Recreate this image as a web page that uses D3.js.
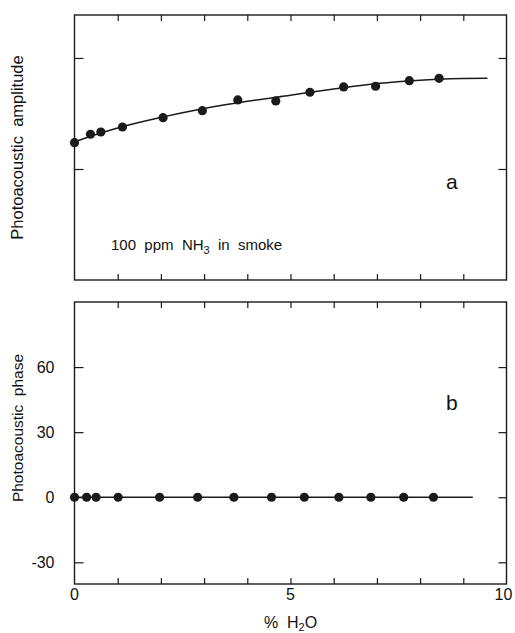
<!DOCTYPE html>
<html><head><meta charset="utf-8">
<script src="https://cdn.jsdelivr.net/npm/d3@7"></script>
<style>body{margin:0;background:#fff}svg{display:block}text{font-family:"Liberation Sans",Arial,sans-serif;fill:#111}</style>
</head><body>
<script>
// Data
const xTicks = [0,1,2,3,4,5,6,7,8,9,10];
const xTickLabels = ["0","5","10"];
const ampX = [0,0.37,0.61,1.11,2.05,2.96,3.78,4.66,5.45,6.23,6.97,7.75,8.44];
const ampY = [1.237,1.313,1.333,1.378,1.462,1.525,1.622,1.613,1.691,1.739,1.745,1.795,1.817];
const ampFitX = [0,0.5,1,2,3,4,5,6,7,8,9,9.56];
const ampFitY = [1.245,1.31,1.37,1.465,1.545,1.61,1.665,1.72,1.77,1.80,1.814,1.818];
const ampTicks = [1,2];
const phaseX = [0,0.28,0.50,1.01,1.97,2.85,3.69,4.56,5.32,6.12,6.86,7.62,8.31];
const phaseY = [0,0,0,0,0,0,0,0,0,0,0,0,0];
const phaseFitX = [0,9.22];
const phaseFitY = [0,0];
const phaseTicks = [-30,0,30,60];

const W=515,H=633;
const svg=d3.select("body").append("svg").attr("width",W).attr("height",H);
const L=74.5,R=506.5;
const x=d3.scaleLinear().domain([0,10]).range([L,R]);
const ink="#1a1a1a";

function panel(top,bottom,ydom,yticks,showYLabels,px,py,fx,fy,curve,letter,title){
  const y=d3.scaleLinear().domain(ydom).range([bottom,top]);
  const g=svg.append("g");
  g.append("rect").attr("x",L).attr("y",top).attr("width",R-L).attr("height",bottom-top)
   .attr("fill","none").attr("stroke",ink).attr("stroke-width",1.4);
  const xb=d3.axisBottom(x).tickValues(xTicks.slice(1,-1)).tickSize(-6).tickFormat("");
  g.append("g").attr("transform",`translate(0,${bottom})`).call(xb).call(s=>{s.select(".domain").remove();s.selectAll("line").attr("stroke",ink).attr("stroke-width",1.2);});
  const xt=d3.axisTop(x).tickValues(xTicks.slice(1,-1)).tickSize(-6).tickFormat("");
  g.append("g").attr("transform",`translate(0,${top})`).call(xt).call(s=>{s.select(".domain").remove();s.selectAll("line").attr("stroke",ink).attr("stroke-width",1.2);});
  const yl=d3.axisLeft(y).tickValues(yticks).tickSize(-9).tickPadding(20).tickFormat(showYLabels?(d=>d3.format("d")(d).replace("\u2212","-")):"");
  g.append("g").attr("transform",`translate(${L},0)`).call(yl).call(s=>{s.select(".domain").remove();s.selectAll("line").attr("stroke",ink).attr("stroke-width",1.2);
     s.selectAll("text").attr("font-size",16).attr("fill",ink).attr("font-family","'Liberation Sans',Arial,sans-serif");});
  const yr=d3.axisRight(y).tickValues(yticks).tickSize(-8).tickFormat("");
  g.append("g").attr("transform",`translate(${R},0)`).call(yr).call(s=>{s.select(".domain").remove();s.selectAll("line").attr("stroke",ink).attr("stroke-width",1.2);});
  const line=d3.line().x((d,i)=>x(fx[i])).y((d,i)=>y(fy[i])).curve(curve);
  g.append("path").datum(fx).attr("d",line).attr("fill","none").attr("stroke",ink).attr("stroke-width",1.5);
  g.selectAll("circle.pt").data(px).enter().append("circle").attr("class","pt")
   .attr("cx",d=>x(d)).attr("cy",(d,i)=>y(py[i])).attr("r",4.6).attr("fill",ink);
  g.append("text").attr("x",x(8.6)).attr("y",letter.y).attr("font-size",21).attr("fill",ink).text(letter.t);
  g.append("text").attr("transform",`translate(23,${(top+bottom)/2+title.dy}) rotate(-90)`)
   .attr("text-anchor","middle").attr("font-size",title.fs).attr("fill",ink).style("white-space","pre").text(title.t);
  return y;
}

panel(15,280,[0,2.387],ampTicks,false,ampX,ampY,ampFitX,ampFitY,d3.curveMonotoneX,{t:"a",y:189},{t:"Photoacoustic  amplitude",dy:0,fs:16.5});
panel(302,584,[-40,90],phaseTicks,true,phaseX,phaseY,phaseFitX,phaseFitY,d3.curveLinear,{t:"b",y:410},{t:"Photoacoustic  phase",dy:-15,fs:15.5});

const ann=svg.append("text").attr("x",111).attr("y",250).attr("font-size",15).attr("fill",ink).style("white-space","pre");
ann.append("tspan").text("100  ppm  NH");
ann.append("tspan").attr("font-size",11).attr("dy",4).text("3");
ann.append("tspan").attr("dy",-4).text("  in  smoke");

svg.append("g").selectAll("text").data([0,5,10]).enter().append("text")
 .attr("x",d=>x(d)+(d===10?-3:0)).attr("y",600).attr("text-anchor","middle").attr("font-size",16).attr("fill",ink)
 .text((d,i)=>xTickLabels[i]);
const xtt=svg.append("text").attr("x",x(5)).attr("y",628).attr("text-anchor","middle").attr("font-size",16).attr("fill",ink).style("white-space","pre");
xtt.append("tspan").text("%  H");
xtt.append("tspan").attr("font-size",11).attr("dy",3).text("2");
xtt.append("tspan").attr("dy",-3).text("O");
</script>
</body></html>
